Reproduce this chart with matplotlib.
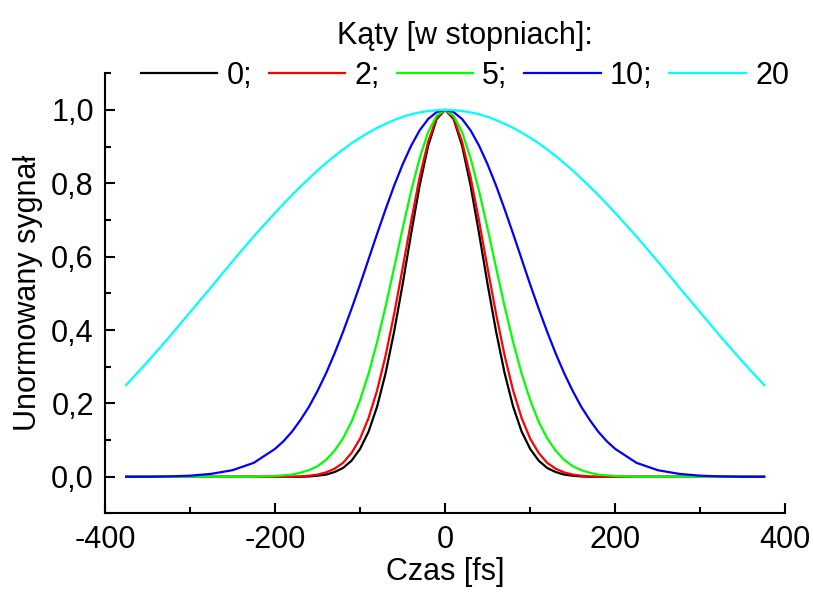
import matplotlib
matplotlib.use("Agg")
import matplotlib.pyplot as plt
from matplotlib.ticker import MultipleLocator, FuncFormatter

plt.rcParams["font.family"] = ["Liberation Sans", "DejaVu Sans"]

# czas [fs]
czas = [-375, -350, -325, -300, -275, -250, -225, -200,
        -190, -180, -170, -160, -150, -140, -130, -120, -110, -100,
        -90, -80, -70, -60, -50, -40, -30, -20, -10, 0,
        10, 20, 30, 40, 50, 60, 70, 80, 90, 100,
        110, 120, 130, 140, 150, 160, 170, 180, 190,
        200, 225, 250, 275, 300, 325, 350, 375]

# znormalizowany sygnal dla kolejnych katow
s0 = [0, 0, 0, 0, 0, 0, 0, 0,
      0, 0, 0, 0.001, 0.003, 0.006, 0.013, 0.024, 0.044, 0.076,
      0.123, 0.191, 0.282, 0.395, 0.524, 0.662, 0.793, 0.902, 0.975, 1.0,
      0.975, 0.902, 0.793, 0.662, 0.524, 0.395, 0.282, 0.191, 0.123, 0.076,
      0.044, 0.024, 0.013, 0.006, 0.003, 0.001, 0, 0, 0,
      0, 0, 0, 0, 0, 0, 0, 0]
s2 = [0, 0, 0, 0, 0, 0, 0, 0,
      0, 0, 0.001, 0.003, 0.006, 0.012, 0.022, 0.038, 0.065, 0.104,
      0.160, 0.235, 0.330, 0.443, 0.568, 0.696, 0.816, 0.913, 0.978, 1.0,
      0.978, 0.913, 0.816, 0.696, 0.568, 0.443, 0.330, 0.235, 0.160, 0.104,
      0.065, 0.038, 0.022, 0.012, 0.006, 0.003, 0.001, 0, 0,
      0, 0, 0, 0, 0, 0, 0, 0]
s5 = [0, 0, 0, 0, 0, 0, 0, 0.002,
      0.004, 0.006, 0.011, 0.018, 0.029, 0.046, 0.071, 0.105, 0.150, 0.209,
      0.281, 0.367, 0.464, 0.569, 0.676, 0.778, 0.868, 0.939, 0.984, 1.0,
      0.984, 0.939, 0.868, 0.778, 0.676, 0.569, 0.464, 0.367, 0.281, 0.209,
      0.150, 0.105, 0.071, 0.046, 0.029, 0.018, 0.011, 0.006, 0.004,
      0.002, 0, 0, 0, 0, 0, 0, 0]
s10 = [0, 0, 0.001, 0.003, 0.008, 0.018, 0.038, 0.076,
       0.097, 0.123, 0.155, 0.191, 0.234, 0.282, 0.336, 0.395, 0.458, 0.524,
       0.593, 0.662, 0.729, 0.793, 0.851, 0.902, 0.944, 0.975, 0.994, 1.0,
       0.994, 0.975, 0.944, 0.902, 0.851, 0.793, 0.729, 0.662, 0.593, 0.524,
       0.458, 0.395, 0.336, 0.282, 0.234, 0.191, 0.155, 0.123, 0.097,
       0.076, 0.038, 0.018, 0.008, 0.003, 0.001, 0, 0]
s20 = [0.250, 0.313, 0.379, 0.448, 0.517, 0.587, 0.655, 0.719,
       0.744, 0.768, 0.791, 0.813, 0.835, 0.855, 0.874, 0.892, 0.909, 0.924,
       0.938, 0.951, 0.962, 0.972, 0.981, 0.988, 0.993, 0.997, 0.999, 1.0,
       0.999, 0.997, 0.993, 0.988, 0.981, 0.972, 0.962, 0.951, 0.938, 0.924,
       0.909, 0.892, 0.874, 0.855, 0.835, 0.813, 0.791, 0.768, 0.744,
       0.719, 0.655, 0.587, 0.517, 0.448, 0.379, 0.313, 0.250]

serie = [s0, s2, s5, s10, s20]
etykiety = ["0;", "2;", "5;", "10;", "20"]
kolory = ["#000000", "#ff0000", "#00ff00", "#0000ff", "#00ffff"]

fs = 22

fig = plt.figure(figsize=(8.13, 5.95), dpi=100)
ax = fig.add_axes([0.129, 0.137, 0.837, 0.740])

for s, lab, c in zip(serie, etykiety, kolory):
    ax.plot(czas, s, color=c, lw=1.6, label=lab)

ax.set_xlim(-400, 400)
ax.set_ylim(-0.1, 1.1)
ax.spines["top"].set_visible(False)
ax.spines["right"].set_visible(False)
for sp in ["left", "bottom"]:
    ax.spines[sp].set_linewidth(1.5)

ax.xaxis.set_major_locator(MultipleLocator(200))
ax.xaxis.set_minor_locator(MultipleLocator(100))
ax.yaxis.set_major_locator(MultipleLocator(0.2))
ax.yaxis.set_minor_locator(MultipleLocator(0.1))
ax.yaxis.set_major_formatter(FuncFormatter(lambda v, p: f"{v:.1f}".replace(".", ",")))
ax.xaxis.set_major_formatter(FuncFormatter(lambda v, p: f"{v:.0f}"))
ax.tick_params(which="major", direction="in", length=7, width=1.5, labelsize=fs, pad=8)
ax.tick_params(which="minor", direction="in", length=4, width=1.5)

ax.set_xlabel("Czas [fs]", fontsize=fs, labelpad=2)
ax.set_ylabel("Unormowany sygnał", fontsize=fs, labelpad=6)

leg = fig.legend(loc="upper center", bbox_to_anchor=(0.572, 1.005), ncol=5, frameon=False,
                 title="Kąty [w stopniach]:", fontsize=fs, title_fontsize=fs,
                 handlelength=2.5, handletextpad=0.3, columnspacing=0.55,
                 borderpad=0.3, labelspacing=0.3)

fig.savefig("out.png", dpi=100)
